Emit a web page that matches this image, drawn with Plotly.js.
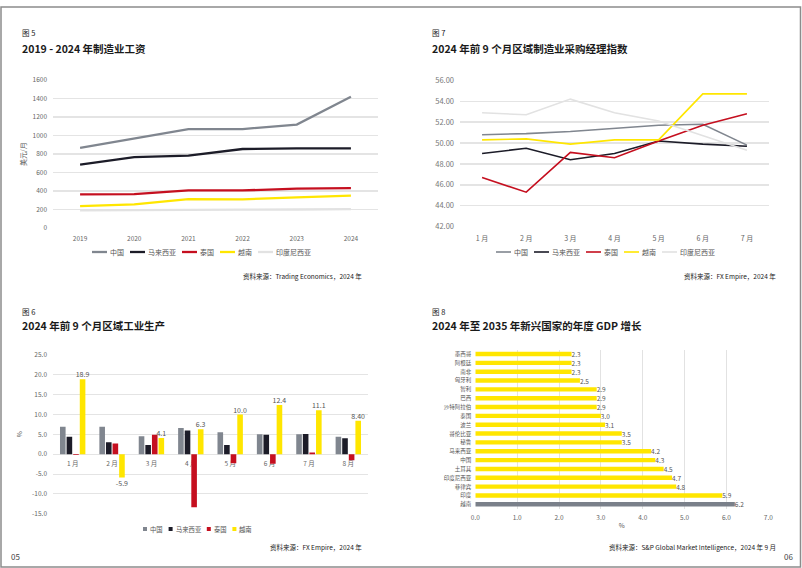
<!DOCTYPE html>
<html><head><meta charset="utf-8">
<script src="https://cdn.plot.ly/plotly-3.0.1.min.js"></script>
<style>html,body{margin:0;padding:0;background:#fff}#c{width:802px;height:568px}</style>
</head><body><div id="c"></div>
<script>
// ---------- Data ----------
const seriesNames = ['中国', '马来西亚', '泰国', '越南', '印度尼西亚'];
// Fig 5: manufacturing wages (USD / month)
const wageYears = ['2019', '2020', '2021', '2022', '2023', '2024'];
const wageChina = [865, 966, 1070, 1070, 1118, 1418];
const wageMalaysia = [685, 767, 782, 854, 860, 861];
const wageThailand = [363, 367, 406, 406, 425, 432];
const wageVietnam = [237, 256, 313, 310, 331, 350];
const wageIndonesia = [190, 195, 198, 198, 200, 205];
// Fig 7: PMI
const pmiMonths = ['1 月', '2 月', '3 月', '4 月', '5 月', '6 月', '7 月'];
const pmiChina = [50.8, 50.9, 51.1, 51.4, 51.7, 51.8, 49.8];
const pmiMalaysia = [49.0, 49.5, 48.4, 49.0, 50.2, 49.9, 49.7];
const pmiThailand = [46.7, 45.3, 49.1, 48.6, 50.2, 51.7, 52.8];
const pmiVietnam = [50.3, 50.4, 49.9, 50.3, 50.3, 54.7, 54.7];
const pmiIndonesia = [52.9, 52.7, 54.2, 52.9, 52.1, 50.7, 49.3];
// Fig 6: industrial production (%)
const ipMonths = ['1 月', '2 月', '3 月', '4 月', '5 月', '6 月', '7 月', '8 月'];
const ipChina = [6.9, 6.9, 4.5, 6.6, 5.5, 5.0, 5.0, 4.4];
const ipMalaysia = [4.4, 3.0, 2.3, 6.0, 2.3, 4.9, 5.1, 4.0];
const ipThailand = [-0.2, 2.7, 4.9, -13.4, -2.3, -2.4, 0.4, -1.5];
const ipVietnam = [18.9, -5.9, 4.1, 6.3, 10.0, 12.4, 11.1, 8.40];
const ipVietnamLabels = ['18.9', '-5.9', '4.1', '6.3', '10.0', '12.4', '11.1', '8.40'];
const ipNames = ['中国', '马来西亚', '泰国', '越南'];
// Fig 8: GDP growth 2024-2035 (%)
const gdpCountries = ['墨西哥', '阿根廷', '南非', '匈牙利', '智利', '巴西', '沙特阿拉伯', '泰国', '波兰', '哥伦比亚', '秘鲁', '马来西亚', '中国', '土耳其', '印度尼西亚', '菲律宾', '印度', '越南'];
const gdpValues = [2.3, 2.3, 2.3, 2.5, 2.9, 2.9, 2.9, 3.0, 3.1, 3.5, 3.5, 4.2, 4.3, 4.5, 4.7, 4.8, 5.9, 6.2];
const gdpHighlight = '越南';

// ---------- Styling ----------
const W = 802, H = 568;
const FONT = "'Noto Sans CJK SC', 'Noto Sans', sans-serif";
const colors = ['#80868f', '#1c1c28', '#c50f1f', '#ffe600', '#e2e2e2'];
const px = v => v / W;
const py = v => 1 - v / H;
const GRID = '#e4e4e4';
const TICK = '#666';

const traces = [];
const wageSeries = [wageChina, wageMalaysia, wageThailand, wageVietnam, wageIndonesia];
wageSeries.forEach((s, i) => traces.push({
  type: 'scatter', mode: 'lines', x: wageYears, y: s, name: seriesNames[i],
  xaxis: 'x', yaxis: 'y', line: {color: colors[i], width: 2.3}, hoverinfo: 'skip'
}));
const pmiSeries = [pmiChina, pmiMalaysia, pmiThailand, pmiVietnam, pmiIndonesia];
pmiSeries.forEach((s, i) => traces.push({
  type: 'scatter', mode: 'lines', x: pmiMonths, y: s, name: seriesNames[i],
  xaxis: 'x2', yaxis: 'y2', line: {color: colors[i], width: 1.6}, hoverinfo: 'skip'
}));
const ipSeries = [ipChina, ipMalaysia, ipThailand, ipVietnam];
ipSeries.forEach((s, i) => {
  const t = {
    type: 'bar', x: ipMonths, y: s, name: ipNames[i], xaxis: 'x3', yaxis: 'y3',
    marker: {color: colors[i]}, hoverinfo: 'skip'
  };
  if (i === 3) {
    t.text = ipVietnamLabels; t.textposition = 'outside'; t.constraintext = 'none';
    t.textfont = {size: 7, color: '#555'}; t.cliponaxis = false;
  }
  traces.push(t);
});
traces.push({
  type: 'bar', orientation: 'h', y: gdpCountries, x: gdpValues, xaxis: 'x4', yaxis: 'y4',
  width: 0.5, hoverinfo: 'skip', name: 'GDP',
  marker: {color: gdpCountries.map(c => c === gdpHighlight ? '#7a808a' : '#ffe600')},
  text: gdpValues.map(v => v.toFixed(1)), textposition: 'outside', constraintext: 'none',
  textfont: {size: 6.5, color: '#555'}, cliponaxis: false
});

const ip0 = (0 - (-15)) / 40; // fraction of y3 domain where zero sits
const y3dom = [py(513.7), py(355)];
const ipTicks = [25, 20, 15, 10, 5, 0, -5, -10, -15];

const catAxis = (extra) => Object.assign({
  type: 'category', showgrid: false, zeroline: false, showline: false, ticks: '',
  tickfont: {size: 6.5, color: TICK}, fixedrange: true
}, extra);
const valAxis = (extra) => Object.assign({
  showgrid: true, gridcolor: GRID, gridwidth: 1, zeroline: false, showline: false, ticks: '',
  tickfont: {size: 6.5, color: TICK}, fixedrange: true
}, extra);

const ann = (text, x, y, size, opts) => Object.assign({
  text: text, xref: 'paper', yref: 'paper', x: px(x), y: py(y), showarrow: false,
  xanchor: 'left', yanchor: 'middle', font: {size: size, color: '#1a1a1a', family: FONT}
}, opts || {});

// Compact legend built from the series names/colours: sample + label per entry, centred on cx.
const annotations = [];
const shapes = [];
function addLegend(names, cols, cx, y, fs, kind, symW, lineW) {
  const textGap = 2, itemGap = 7;
  const widths = names.map(n => symW + textGap + n.length * fs);
  const total = widths.reduce((a, b) => a + b, 0) + itemGap * (names.length - 1);
  let x = cx - total / 2;
  names.forEach((n, i) => {
    if (kind === 'line') {
      shapes.push({type: 'line', xref: 'paper', yref: 'paper', x0: px(x), x1: px(x + symW),
        y0: py(y), y1: py(y), line: {color: cols[i], width: lineW}});
    } else {
      shapes.push({type: 'rect', xref: 'paper', yref: 'paper', x0: px(x), x1: px(x + symW),
        y0: py(y + symW / 2), y1: py(y - symW / 2), line: {width: 0}, fillcolor: cols[i]});
    }
    annotations.push({text: n, xref: 'paper', yref: 'paper', x: px(x + symW + textGap), y: py(y),
      xanchor: 'left', yanchor: 'middle', showarrow: false, borderpad: 0,
      font: {size: fs, color: '#555', family: FONT}});
    x += widths[i] + itemGap;
  });
}
addLegend(seriesNames, colors, 201, 252, 7, 'line', 15, 2.3);
addLegend(seriesNames, colors, 605, 252, 7, 'line', 15, 1.6);
addLegend(ipNames, colors, 197, 529, 6.3, 'square', 4);

annotations.push(
  ann('图 5', 20, 33, 7.5),
  ann('<b>2019 - 2024 年制造业工资</b>', 20, 48, 10.5),
  ann('资料来源：Trading Economics，2024 年', 364, 276, 6.5, {xanchor: 'right'}),
  ann('图 7', 430, 33, 7.5),
  ann('<b>2024 年前 9 个月区域制造业采购经理指数</b>', 430, 48, 10.5),
  ann('资料来源：FX Empire，2024 年', 778, 276, 6.5, {xanchor: 'right'}),
  ann('图 6', 20, 311, 7.5),
  ann('<b>2024 年前 9 个月区域工业生产</b>', 20, 325, 10.5),
  ann('资料来源：FX Empire，2024 年', 364, 547, 6.5, {xanchor: 'right'}),
  ann('图 8', 430, 311, 7.5),
  ann('<b>2024 年至 2035 年新兴国家的年度 GDP 增长</b>', 430, 325, 10.5),
  ann('资料来源：S&P Global Market Intelligence，2024 年 9 月', 778, 547, 6.5, {xanchor: 'right'}),
  ann('05', 9, 556, 8, {font: {size: 8, color: '#444', family: FONT}}),
  ann('06', 795, 556, 8, {xanchor: 'right', font: {size: 8, color: '#444', family: FONT}})
);
shapes.push({
  type: 'rect', xref: 'paper', yref: 'paper', x0: px(1), x1: px(800.5), y0: py(567), y1: py(7),
  line: {color: '#8c8c8c', width: 1.5}, fillcolor: 'rgba(0,0,0,0)', layer: 'above'
});

const layout = {
  width: W, height: H, margin: {l: 0, r: 0, t: 0, b: 0},
  paper_bgcolor: '#fff', plot_bgcolor: 'rgba(0,0,0,0)',
  font: {family: FONT, color: TICK},
  showlegend: false, barmode: 'group', bargap: 0.33, bargroupgap: 0.15,
  xaxis: catAxis({domain: [px(53), px(378)], anchor: 'y', range: [-0.5, wageYears.length - 0.5],
    ticklabelstandoff: 5}),
  yaxis: valAxis({domain: [py(228), py(80)], anchor: 'x', range: [0, 1600], dtick: 200,
    gridwidth: 1.3, ticklabelstandoff: 5,
    title: {text: '美元/月', font: {size: 7, color: '#555'}, standoff: 5}}),
  xaxis2: catAxis({domain: [px(460), px(769)], anchor: 'y2', range: [-0.5, pmiMonths.length - 0.5],
    tickfont: {size: 7, color: TICK}, ticklabelstandoff: 6}),
  yaxis2: valAxis({domain: [py(226.7), py(80.3)], anchor: 'x2', range: [42, 56], dtick: 2,
    tickformat: '.2f', tickfont: {size: 7.5, color: '#777'}, gridwidth: 1.3, ticklabelstandoff: 5}),
  xaxis3: catAxis({domain: [px(53), px(368)], anchor: 'free',
    position: y3dom[0] + ip0 * (y3dom[1] - y3dom[0]), layer: 'below traces',
    tickfont: {size: 6.5, color: TICK}, ticklabelstandoff: 4}),
  yaxis3: valAxis({domain: y3dom, anchor: 'x3', range: [-15, 25], tickmode: 'array',
    tickvals: ipTicks, ticktext: ipTicks.map(v => v.toFixed(1)), ticklabelstandoff: 5,
    title: {text: '%', font: {size: 6.5, color: '#555'}, standoff: 8}}),
  xaxis4: valAxis({domain: [px(475.3), px(768.3)], anchor: 'y4', range: [0, 7], dtick: 1,
    tickformat: '.1f', gridcolor: '#e2e2e2', ticklabelstandoff: 4,
    title: {text: '%', font: {size: 6.5, color: '#555'}, standoff: 2}}),
  yaxis4: catAxis({domain: [py(508.7), py(349.6)], anchor: 'x4', autorange: 'reversed',
    tickfont: {size: 5.5, color: '#555'}, ticklabelstandoff: 3}),
  annotations: annotations,
  shapes: shapes
};

Plotly.newPlot('c', traces, layout, {displayModeBar: false, staticPlot: true});
</script>
</body></html>
